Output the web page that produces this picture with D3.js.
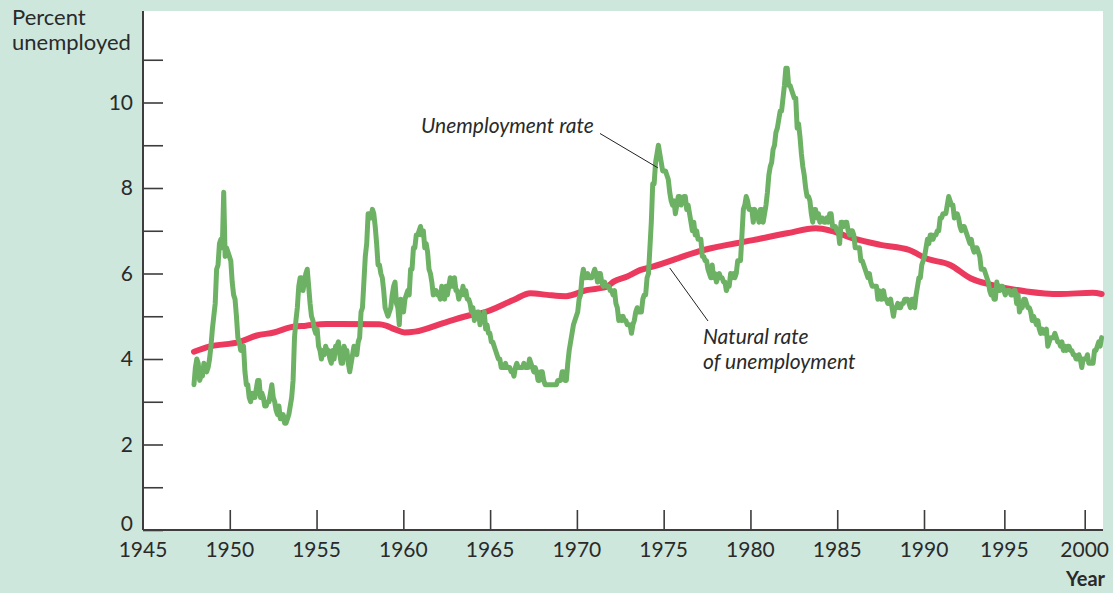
<!DOCTYPE html>
<html>
<head>
<meta charset="utf-8">
<script src="https://cdn.jsdelivr.net/npm/d3@7"></script>
<style>
  html, body { margin: 0; padding: 0; background: #cde7dd; }
  svg { display: block; }
  text { font-family: Lato, "Open Sans", sans-serif; fill: #2a2a2a; }
</style>
</head>
<body>
<svg id="chart" width="1113" height="593"></svg>
<script>
// ---------------- DATA ----------------
// Monthly civilian unemployment rate (%), Jan 1948 – Jun 2001
const unemploymentStartYear = 1948;
const unemploymentRate = [
  3.4,3.8,4.0,3.9,3.5,3.6,3.6,3.9,3.8,3.7,3.8,4.0,   // 1948
  4.3,4.7,5.0,5.3,6.1,6.2,6.7,6.8,6.6,7.9,6.4,6.6,   // 1949
  6.5,6.4,6.3,5.8,5.5,5.4,5.0,4.5,4.4,4.2,4.2,4.3,   // 1950
  3.7,3.4,3.4,3.1,3.0,3.2,3.1,3.1,3.3,3.5,3.5,3.1,   // 1951
  3.2,3.1,2.9,2.9,3.0,3.0,3.2,3.4,3.1,3.0,2.8,2.7,   // 1952
  2.9,2.6,2.6,2.7,2.5,2.5,2.6,2.7,2.9,3.1,3.5,4.5,   // 1953
  4.9,5.2,5.7,5.9,5.9,5.6,5.8,6.0,6.1,5.7,5.3,5.0,   // 1954
  4.9,4.7,4.6,4.7,4.3,4.2,4.0,4.2,4.1,4.3,4.2,4.2,   // 1955
  4.0,3.9,4.2,4.0,4.3,4.3,4.4,4.1,3.9,3.9,4.3,4.2,   // 1956
  4.2,3.9,3.7,3.9,4.1,4.3,4.2,4.1,4.4,4.5,5.1,5.2,   // 1957
  5.8,6.4,6.7,7.4,7.4,7.3,7.5,7.4,7.1,6.7,6.2,6.2,   // 1958
  6.0,5.9,5.6,5.2,5.1,5.0,5.1,5.2,5.5,5.7,5.8,5.3,   // 1959
  5.2,4.8,5.4,5.2,5.1,5.4,5.5,5.6,5.5,6.1,6.1,6.6,   // 1960
  6.6,6.9,6.9,7.0,7.1,6.9,7.0,6.6,6.7,6.5,6.1,6.0,   // 1961
  5.8,5.5,5.6,5.6,5.5,5.5,5.4,5.7,5.6,5.4,5.7,5.5,   // 1962
  5.7,5.9,5.7,5.7,5.9,5.6,5.6,5.4,5.5,5.5,5.7,5.5,   // 1963
  5.6,5.4,5.4,5.3,5.1,5.2,4.9,5.0,5.1,5.1,4.8,5.0,   // 1964
  4.9,5.1,4.7,4.8,4.6,4.6,4.4,4.4,4.3,4.2,4.1,4.0,   // 1965
  4.0,3.8,3.8,3.8,3.9,3.8,3.8,3.8,3.7,3.7,3.6,3.8,   // 1966
  3.9,3.8,3.8,3.8,3.8,3.9,3.8,3.8,3.8,4.0,3.9,3.8,   // 1967
  3.7,3.8,3.7,3.5,3.5,3.7,3.7,3.5,3.4,3.4,3.4,3.4,   // 1968
  3.4,3.4,3.4,3.4,3.4,3.5,3.5,3.5,3.7,3.7,3.5,3.5,   // 1969
  3.9,4.2,4.4,4.6,4.8,4.9,5.0,5.1,5.4,5.5,5.9,6.1,   // 1970
  5.9,5.9,6.0,5.9,5.9,5.9,6.0,6.1,6.0,5.8,6.0,6.0,   // 1971
  5.8,5.7,5.8,5.7,5.7,5.7,5.6,5.6,5.5,5.6,5.3,5.2,   // 1972
  4.9,5.0,4.9,5.0,4.9,4.9,4.8,4.8,4.8,4.6,4.8,4.9,   // 1973
  5.1,5.2,5.1,5.1,5.1,5.4,5.5,5.5,5.9,6.0,6.6,7.2,   // 1974
  8.1,8.1,8.6,8.8,9.0,8.8,8.6,8.4,8.4,8.4,8.3,8.2,   // 1975
  7.9,7.7,7.6,7.7,7.4,7.6,7.8,7.8,7.6,7.7,7.8,7.8,   // 1976
  7.5,7.6,7.4,7.2,7.0,7.2,6.9,7.0,6.8,6.8,6.8,6.4,   // 1977
  6.4,6.3,6.3,6.1,6.0,5.9,6.2,5.9,6.0,5.8,5.9,6.0,   // 1978
  5.9,5.9,5.8,5.8,5.6,5.7,5.7,6.0,5.9,6.0,5.9,6.0,   // 1979
  6.3,6.3,6.3,6.9,7.5,7.6,7.8,7.7,7.5,7.5,7.5,7.2,   // 1980
  7.5,7.4,7.4,7.2,7.5,7.5,7.2,7.4,7.6,7.9,8.3,8.5,   // 1981
  8.6,8.9,9.0,9.3,9.4,9.6,9.8,9.8,10.1,10.4,10.8,10.8, // 1982
  10.4,10.4,10.3,10.2,10.1,10.1,9.4,9.5,9.2,8.8,8.5,8.3, // 1983
  8.0,7.8,7.8,7.7,7.4,7.2,7.5,7.5,7.3,7.4,7.2,7.3,   // 1984
  7.3,7.2,7.2,7.3,7.2,7.4,7.4,7.1,7.1,7.1,7.0,7.0,   // 1985
  6.7,7.2,7.2,7.1,7.2,7.2,7.0,6.9,7.0,7.0,6.9,6.6,   // 1986
  6.6,6.6,6.6,6.3,6.3,6.2,6.1,6.0,5.9,6.0,5.8,5.7,   // 1987
  5.7,5.7,5.7,5.4,5.6,5.4,5.4,5.6,5.4,5.4,5.3,5.3,   // 1988
  5.4,5.2,5.0,5.2,5.2,5.3,5.2,5.2,5.3,5.3,5.4,5.4,   // 1989
  5.4,5.3,5.2,5.4,5.4,5.2,5.5,5.7,5.9,5.9,6.2,6.3,   // 1990
  6.4,6.6,6.8,6.7,6.9,6.9,6.8,6.9,6.9,7.0,7.0,7.3,   // 1991
  7.3,7.4,7.4,7.4,7.6,7.8,7.7,7.6,7.6,7.3,7.4,7.4,   // 1992
  7.3,7.1,7.0,7.1,7.1,7.0,6.9,6.8,6.7,6.8,6.6,6.5,   // 1993
  6.6,6.6,6.5,6.4,6.1,6.1,6.1,6.0,5.9,5.8,5.6,5.5,   // 1994
  5.6,5.4,5.4,5.8,5.6,5.6,5.7,5.7,5.6,5.5,5.6,5.6,   // 1995
  5.6,5.5,5.5,5.6,5.6,5.3,5.5,5.1,5.2,5.2,5.4,5.4,   // 1996
  5.3,5.2,5.2,5.1,4.9,5.0,4.9,4.8,4.9,4.7,4.6,4.7,   // 1997
  4.6,4.6,4.7,4.3,4.4,4.5,4.5,4.5,4.6,4.5,4.4,4.4,   // 1998
  4.3,4.4,4.2,4.3,4.2,4.3,4.3,4.2,4.2,4.1,4.1,4.0,   // 1999
  4.0,4.1,4.0,3.8,4.0,4.0,4.0,4.1,3.9,3.9,3.9,3.9,   // 2000
  4.2,4.2,4.3,4.4,4.3,4.5                            // 2001
];

// Natural rate of unemployment (%)
const naturalYears = [1948.0,1948.9,1950.7,1951.7,1952.7,1953.65,1954.6,1955.8,1956.6,1958.9,1959.3,1959.8,1960.4,1961.0,1962.9,1964.3,1964.9,1966.8,1967.8,1968.8,1969.9,1971.1,1972.3,1972.7,1973.5,1974.25,1975.0,1978.0,1980.9,1982.9,1984.6,1985.5,1986.8,1988.4,1990.1,1991.1,1992.5,1993.7,1995.0,1997.0,1999.0,2000.9,2001.42];
const naturalRate  = [4.17,4.29,4.40,4.55,4.62,4.74,4.78,4.82,4.82,4.81,4.78,4.70,4.62,4.64,4.87,5.03,5.07,5.38,5.54,5.50,5.47,5.61,5.69,5.81,5.93,6.08,6.16,6.55,6.78,6.94,7.06,7.00,6.82,6.67,6.55,6.35,6.20,5.89,5.73,5.58,5.52,5.55,5.52];

// Tick labels
const xTickYears = [1945,1950,1955,1960,1965,1970,1975,1980,1985,1990,1995,2000];
const yTickValues = [0,1,2,3,4,5,6,7,8,9,10,11];
const yLabelValues = [0,2,4,6,8,10];

// ---------------- LAYOUT ----------------
const svg = d3.select("#chart");
const plot = { left: 143, right: 1103, top: 11, bottom: 530 };
const green = "#6db264";
const red = "#ec3a5f";
const axisColor = "#3d3d3d";

// data x scale (year -> px)
const x = d3.scaleLinear().domain([1945, 2001.5]).range([plot.left, plot.right]);
// axis tick scale as printed in the original figure (slightly uneven)
const xAxisScale = d3.scaleLinear().domain([1945, 1990, 2000])
  .range([plot.left, plot.left + 781, plot.left + 941.7]);
const y = d3.scaleLinear().domain([0, 10]).range([plot.bottom, plot.bottom - 427.5]);

// white plot area
svg.append("rect")
  .attr("x", plot.left).attr("y", plot.top)
  .attr("width", plot.right - plot.left).attr("height", plot.bottom - plot.top)
  .attr("fill", "#ffffff");

// ---------------- LINES ----------------
const unempData = unemploymentRate.map((v, i) => ({ t: unemploymentStartYear + i / 12, v }));
const natData = naturalYears.map((t, i) => ({ t, v: naturalRate[i] }));

svg.append("path")
  .datum(natData)
  .attr("fill", "none")
  .attr("stroke", red)
  .attr("stroke-width", 6)
  .attr("stroke-linecap", "round")
  .attr("d", d3.line().x(d => x(d.t)).y(d => y(d.v)).curve(d3.curveMonotoneX));

svg.append("path")
  .datum(unempData)
  .attr("fill", "none")
  .attr("stroke", green)
  .attr("stroke-width", 5)
  .attr("stroke-linejoin", "round")
  .attr("stroke-linecap", "round")
  .attr("d", d3.line().x(d => x(d.t)).y(d => y(d.v)));

// ---------------- AXES ----------------
// y axis
const yAxis = svg.append("g").attr("transform", `translate(${plot.left},0)`)
  .call(d3.axisRight(y).tickValues(yTickValues).tickSize(20).tickFormat(""));
yAxis.select(".domain").remove();
yAxis.selectAll(".tick line").attr("stroke", axisColor).attr("stroke-width", 1.6);
svg.append("line")
  .attr("x1", plot.left).attr("x2", plot.left)
  .attr("y1", plot.top).attr("y2", plot.bottom)
  .attr("stroke", axisColor).attr("stroke-width", 2);

svg.append("g").selectAll("text").data(yLabelValues).join("text")
  .attr("x", plot.left - 10)
  .attr("y", d => y(d) - (d === 0 ? 6 : 0))
  .attr("dy", "0.35em")
  .attr("text-anchor", "end")
  .style("font-size", "21px")
  .text(d => d);

// x axis
const xAxis = svg.append("g").attr("transform", `translate(0,${plot.bottom})`)
  .call(d3.axisTop(xAxisScale).tickValues(xTickYears.slice(1)).tickSize(20).tickFormat(""));
xAxis.select(".domain").remove();
xAxis.selectAll(".tick line").attr("stroke", axisColor).attr("stroke-width", 1.6);
svg.append("line")
  .attr("x1", plot.left).attr("x2", plot.right)
  .attr("y1", plot.bottom).attr("y2", plot.bottom)
  .attr("stroke", axisColor).attr("stroke-width", 2);

svg.append("g").selectAll("text").data(xTickYears).join("text")
  .attr("x", d => xAxisScale(d))
  .attr("y", plot.bottom + 27)
  .attr("text-anchor", "middle")
  .style("font-size", "21px")
  .text(d => d);

// axis titles
svg.append("text").attr("x", 12).attr("y", 25)
  .style("font-size", "22px").text("Percent");
svg.append("text").attr("x", 12).attr("y", 50)
  .style("font-size", "22px").text("unemployed");
svg.append("text").attr("x", 1105).attr("y", 586)
  .attr("text-anchor", "end")
  .style("font-size", "20px").style("font-weight", "bold").text("Year");

// ---------------- ANNOTATIONS ----------------
svg.append("text").attr("x", 421).attr("y", 133)
  .style("font-size", "21px").style("font-style", "italic")
  .text("Unemployment rate");
svg.append("line")
  .attr("x1", 600).attr("y1", 133.5).attr("x2", x(1975.3)).attr("y2", y(8.8) + 14)
  .attr("stroke", "#222").attr("stroke-width", 1);

svg.append("text").attr("x", 703).attr("y", 344)
  .style("font-size", "21px").style("font-style", "italic")
  .text("Natural rate");
svg.append("text").attr("x", 703).attr("y", 369)
  .style("font-size", "21px").style("font-style", "italic")
  .text("of unemployment");
svg.append("line")
  .attr("x1", x(1976.0)).attr("y1", y(6.2) + 3).attr("x2", 708).attr("y2", 321)
  .attr("stroke", "#222").attr("stroke-width", 1);
</script>
</body>
</html>
